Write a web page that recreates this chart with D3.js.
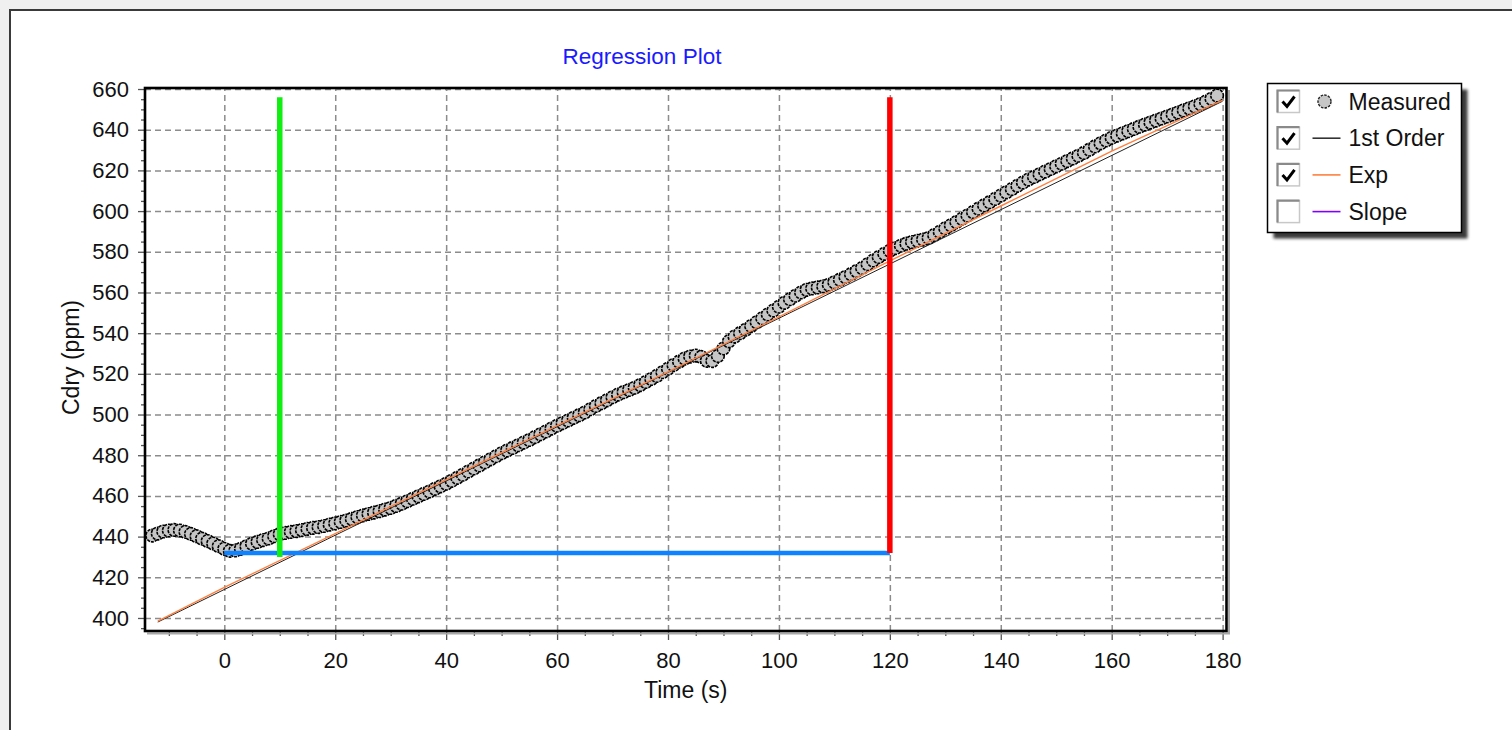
<!DOCTYPE html>
<html>
<head>
<meta charset="utf-8">
<title>Regression Plot</title>
<script src="https://cdn.jsdelivr.net/npm/d3@7/dist/d3.min.js"></script>
<style>
    body { margin: 0; background: #f0f0f0; font-family: "Liberation Sans", Arial, sans-serif; }
    svg { display: block; }
    .grid line { stroke: #8c8c8c; stroke-width: 1.5; stroke-dasharray: 6,4; }
    .grid .domain { display: none; }
    .axisTicks .domain { display: none; }
    .axisTicks line { stroke: #555; stroke-width: 1.3; }
    .axisTicks text { font-size: 22px; fill: #111; font-family: "Liberation Sans", Arial, sans-serif; }
    .legendText { font-size: 23px; fill: #111; }
</style>
</head>
<body>
<script>
//anonymous function to wrap script
(function(){

    //measured Cdry (ppm), one sample per second starting at t = -13 s
    var measuredStart = -13;
    var measuredC = [
        440.5, 441.5, 442.5, 443, 443.3, 443, 442.3, 441.3, 440.2, 439, 437.8, 436.6, 435.3,
        434, 433, 433.2, 434, 435.2, 436.5, 437.4, 438.3, 439.1, 440.2,
        441.2, 441.8, 442.3, 442.7, 443.2, 443.8, 444.3, 444.7, 445.2, 445.9,
        446.5, 447.2, 447.9, 448.7, 449.6, 450.4, 451.1, 451.8, 452.5, 453.3,
        454.1, 455.1, 456.2, 457.4, 458.6, 459.8, 461, 462.2, 463.5, 464.7,
        466, 467.4, 468.9, 470.4, 472, 473.5, 475, 476.5, 478, 479.5,
        481, 482.3, 483.6, 484.9, 486.2, 487.5, 488.9, 490.3, 491.7, 493.1,
        494.5, 495.8, 497.1, 498.4, 499.7, 501, 502.6, 504.2, 505.6, 507,
        508.5, 509.8, 511, 512.1, 513.2, 514.5, 516, 517.5, 519, 520.8,
        522.5, 524.3, 526, 527.5, 528.5, 529, 528.3, 526.4, 526.3, 528.8,
        532.5, 536, 538.3, 540, 541.7, 543.5, 545.4, 547.3, 549.2, 551.1,
        553, 554.9, 556.7, 558.4, 560, 561.3, 562, 562.5, 563, 563.8,
        565, 566.3, 567.6, 569, 570.5, 572, 573.9, 575.7, 577.4, 579,
        580.5, 581.8, 583, 584, 584.8, 585.4, 586, 586.8, 588.2, 589.8,
        591.5, 593, 594.6, 596.2, 597.8, 599.5, 601.2, 602.8, 604.4, 606,
        607.6, 609.2, 610.8, 612.4, 614, 615.5, 616.8, 618.1, 619.4, 620.7,
        622, 623.3, 624.6, 625.9, 627.2, 628.6, 630.2, 631.8, 633.3, 634.7,
        636, 637.1, 638.2, 639.3, 640.4, 641.5, 642.5, 643.5, 644.5, 645.5,
        646.5, 647.5, 648.5, 649.5, 650.5, 651.5, 652.6, 653.8, 655.2, 656.8
    ];

    //fitted curves
    var expT = [-12, 0, 20, 40, 60, 80, 100, 120, 140, 160, 180];
    var expC = [398.5, 415, 441.5, 468, 494.5, 521, 548, 575.5, 602.5, 629.5, 654.5];
    var firstOrderT = [-12, 180];
    var firstOrderC = [398, 654];

    //regression window markers
    var windowStart = 10, windowEnd = 120, windowZero = 0;
    var windowBase = 432, windowTop = 656, greenBottom = 430;

    //axis ticks
    var xTicks = [0, 20, 40, 60, 80, 100, 120, 140, 160, 180];
    var xMinor = [-10, -5, 5, 10, 15, 25, 30, 35, 45, 50, 55, 65, 70, 75, 85, 90, 95,
                  105, 110, 115, 125, 130, 135, 145, 150, 155, 165, 170, 175];
    var yTicks = [400, 420, 440, 460, 480, 500, 520, 540, 560, 580, 600, 620, 640, 660];
    var yMinor = [395, 405, 410, 415, 425, 430, 435, 445, 450, 455, 465, 470, 475, 485, 490, 495,
                  505, 510, 515, 525, 530, 535, 545, 550, 555, 565, 570, 575, 585, 590, 595,
                  605, 610, 615, 625, 630, 635, 645, 650, 655];

    //legend
    var legendLabels = ["Measured", "1st Order", "Exp", "Slope"];
    var legendChecked = [true, true, true, false];
    var legendColors = [null, "#333333", "#ff8040", "#8000ff"];

    window.onload = setChart();

    function setChart(){
        var width = 1512,
            height = 730;

        var left = 145, top = 88, right = 1226.5, bottom = 631;

        var svg = d3.select("body")
            .append("svg")
            .attr("width", width)
            .attr("height", height);

        //white panel with dark border
        svg.append("rect")
            .attr("x", 10)
            .attr("y", 10)
            .attr("width", width + 20)
            .attr("height", height + 20)
            .attr("fill", "#ffffff")
            .attr("stroke", "#3a3a3a")
            .attr("stroke-width", 2);

        var x = d3.scaleLinear()
            .domain([-14.3, 180.7])
            .range([left, right]);

        var y = d3.scaleLinear()
            .domain([393.6, 660.5])
            .range([bottom, top]);

        //grid lines
        svg.append("g")
            .attr("class", "grid")
            .attr("transform", "translate(0," + bottom + ")")
            .call(d3.axisBottom(x).tickValues(xTicks).tickSize(-(bottom - top)).tickFormat(""));

        svg.append("g")
            .attr("class", "grid")
            .attr("transform", "translate(" + left + ",0)")
            .call(d3.axisLeft(y).tickValues(yTicks).tickSize(-(right - left)).tickFormat(""));

        //minor ticks
        svg.append("g")
            .attr("class", "axisTicks")
            .attr("transform", "translate(0," + bottom + ")")
            .call(d3.axisBottom(x).tickValues(xMinor).tickSize(5).tickFormat(""));

        svg.append("g")
            .attr("class", "axisTicks")
            .attr("transform", "translate(" + left + ",0)")
            .call(d3.axisLeft(y).tickValues(yMinor).tickSize(4).tickFormat(""));

        //major ticks with labels
        svg.append("g")
            .attr("class", "axisTicks")
            .attr("transform", "translate(0," + bottom + ")")
            .call(d3.axisBottom(x).tickValues(xTicks).tickSize(9).tickPadding(12));

        svg.append("g")
            .attr("class", "axisTicks")
            .attr("transform", "translate(" + left + ",0)")
            .call(d3.axisLeft(y).tickValues(yTicks).tickSize(7).tickPadding(9));

        //clip to plot area
        svg.append("clipPath")
            .attr("id", "plotClip")
            .append("rect")
            .attr("x", left)
            .attr("y", top)
            .attr("width", right - left)
            .attr("height", bottom - top);

        var plot = svg.append("g").attr("clip-path", "url(#plotClip)");

        //measured points
        plot.selectAll(".measured")
            .data(measuredC)
            .enter()
            .append("circle")
            .attr("class", "measured")
            .attr("cx", function(d, i){ return x(measuredStart + i); })
            .attr("cy", function(d){ return y(d); })
            .attr("r", 6.3)
            .attr("fill", "#c6c6c6")
            .attr("stroke", "#000")
            .attr("stroke-width", 1.6)
            .attr("stroke-dasharray", "3,1");

        var line = d3.line()
            .x(function(d){ return x(d[0]); })
            .y(function(d){ return y(d[1]); });

        //1st order fit (mostly hidden under the exp fit)
        plot.append("path")
            .datum(d3.zip(firstOrderT, firstOrderC))
            .attr("d", line)
            .attr("fill", "none")
            .attr("stroke", "#222")
            .attr("stroke-width", 1);

        //exp fit
        plot.append("path")
            .datum(d3.zip(expT, expC))
            .attr("d", line)
            .attr("fill", "none")
            .attr("stroke", "#ff8040")
            .attr("stroke-width", 1.4);

        //regression window: baseline, start and end markers
        svg.append("line")
            .attr("x1", x(windowZero))
            .attr("x2", x(windowEnd))
            .attr("y1", y(windowBase))
            .attr("y2", y(windowBase))
            .attr("stroke", "#0f82ff")
            .attr("stroke-width", 4.5);

        svg.append("line")
            .attr("x1", x(windowStart))
            .attr("x2", x(windowStart))
            .attr("y1", y(greenBottom))
            .attr("y2", y(windowTop))
            .attr("stroke", "#11ee11")
            .attr("stroke-width", 5.5);

        svg.append("line")
            .attr("x1", x(windowEnd))
            .attr("x2", x(windowEnd))
            .attr("y1", y(windowBase))
            .attr("y2", y(windowTop))
            .attr("stroke", "#ff0000")
            .attr("stroke-width", 5.5);

        //plot frame with a grey shadow on right and bottom
        svg.append("path")
            .attr("d", "M" + (left + 2) + "," + (bottom + 2.5) + "H" + (right + 2.5) + "V" + (top + 2))
            .attr("fill", "none")
            .attr("stroke", "#a8a8a8")
            .attr("stroke-width", 2);

        svg.append("rect")
            .attr("x", left)
            .attr("y", top)
            .attr("width", right - left)
            .attr("height", bottom - top)
            .attr("fill", "none")
            .attr("stroke", "#000")
            .attr("stroke-width", 2.6);

        //titles
        svg.append("text")
            .attr("x", 642)
            .attr("y", 64)
            .attr("text-anchor", "middle")
            .attr("fill", "#1a1aff")
            .style("font-size", "22.5px")
            .text("Regression Plot");

        svg.append("text")
            .attr("x", (left + right) / 2)
            .attr("y", 698)
            .attr("text-anchor", "middle")
            .attr("fill", "#111")
            .style("font-size", "23px")
            .text("Time (s)");

        svg.append("text")
            .attr("transform", "translate(79," + ((top + bottom) / 2 - 2) + ") rotate(-90)")
            .attr("text-anchor", "middle")
            .attr("fill", "#111")
            .style("font-size", "23px")
            .text("Cdry (ppm)");

        setLegend(svg);
    };

    function setLegend(svg){
        var lx = 1267.5, ly = 83.5, lw = 194, lh = 149, rowGap = 36.7;

        //shadow
        svg.append("rect")
            .attr("x", lx + 6)
            .attr("y", ly + 6)
            .attr("width", lw)
            .attr("height", lh)
            .attr("fill", "#3a3a3a")
            .style("filter", "blur(1.5px)");

        svg.append("rect")
            .attr("x", lx)
            .attr("y", ly)
            .attr("width", lw)
            .attr("height", lh)
            .attr("fill", "#fff")
            .attr("stroke", "#000")
            .attr("stroke-width", 1.5);

        var rows = svg.selectAll(".legendRow")
            .data(legendLabels)
            .enter()
            .append("g")
            .attr("class", "legendRow")
            .attr("transform", function(d, i){
                return "translate(" + lx + "," + (ly + 18 + i * rowGap) + ")";
            });

        //checkbox
        rows.append("rect")
            .attr("x", 10)
            .attr("y", -11)
            .attr("width", 22)
            .attr("height", 22)
            .attr("fill", "#fff")
            .attr("stroke", "#c8c8c8")
            .attr("stroke-width", 1.5);

        rows.append("path")
            .attr("d", "M10,11V-11H32")
            .attr("fill", "none")
            .attr("stroke", "#8a8a8a")
            .attr("stroke-width", 2.2);

        rows.filter(function(d, i){ return legendChecked[i]; })
            .append("path")
            .attr("d", "M15,0L19.5,5L27,-5")
            .attr("fill", "none")
            .attr("stroke", "#000")
            .attr("stroke-width", 3);

        //symbols
        rows.filter(function(d, i){ return i === 0; })
            .append("circle")
            .attr("cx", 57)
            .attr("cy", 0)
            .attr("r", 6.5)
            .attr("fill", "#c6c6c6")
            .attr("stroke", "#222")
            .attr("stroke-width", 1.4)
            .attr("stroke-dasharray", "2.5,1.2");

        rows.filter(function(d, i){ return i > 0; })
            .append("line")
            .attr("x1", 45)
            .attr("x2", 73)
            .attr("y1", 0)
            .attr("y2", 0)
            .attr("stroke", function(d, i){ return legendColors[i + 1]; })
            .attr("stroke-width", 1.6);

        rows.append("text")
            .attr("class", "legendText")
            .attr("x", 81)
            .attr("y", 0)
            .attr("dy", "0.36em")
            .text(function(d){ return d; });
    };

})();
</script>
</body>
</html>
